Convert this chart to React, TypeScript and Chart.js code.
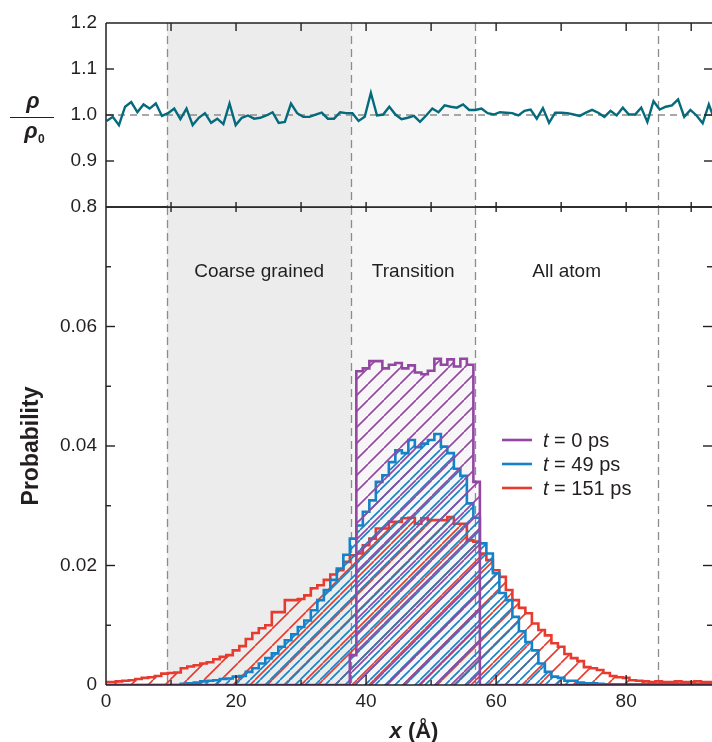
import React, { useEffect, useRef } from 'react';
import { Chart, registerables } from 'chart.js';

Chart.register(...registerables);

// ---------- data ----------
const X_MIN = 0;
const X_MAX = 93.2;
const BIN_WIDTH = 1; // Å, bins centred on integer x
const X_TICK_LABELS_STEP = 20;

// rho / rho0 samples (top panel), spaced DENSITY_DX apart starting at DENSITY_X0
const DENSITY_X0 = 0.1;
const DENSITY_DX = 0.945;
const DENSITY = [
  0.987, 0.996, 0.978, 1.018, 1.028, 1.006, 1.023, 1.014, 1.025, 0.998,
  1.004, 1.014, 0.991, 1.014, 0.978, 0.994, 1.004, 0.983, 0.992, 0.98,
  1.025, 0.978, 0.994, 0.999, 0.992, 0.994, 0.999, 1.006, 0.983, 0.985,
  1.025, 1.004, 0.996, 0.996, 1.001, 1.005, 0.992, 0.992, 1.006, 1.004,
  1.004, 0.987,
  0.996, 1.048, 0.999, 1.001, 1.018, 1.001, 0.991, 0.994, 0.998, 0.985,
  0.999, 1.014, 1.006, 1.021, 1.018, 1.016, 1.023, 1.011, 1.011, 1.014,
  1.004, 1.001, 1.006, 1.005, 1.004, 0.999, 1.009, 1.012, 0.992, 1.015,
  0.983, 1.005, 1.005, 1.004, 1.001, 0.998, 1.005, 1.011, 1.005, 0.996,
  1.009, 0.999, 1.016, 1.001, 1.001, 1.016, 0.985, 1.03, 1.012, 1.018,
  1.021, 1.034, 0.996, 1.011, 0.999, 0.982, 1.023, 0.987,
];

// probability histograms, one value per 1 Å bin (bins 0..93)
const PROB_T0 = [
  0, 0, 0, 0, 0, 0, 0, 0, 0, 0,
  0, 0, 0, 0, 0, 0, 0, 0, 0, 0,
  0, 0, 0, 0, 0, 0, 0, 0, 0, 0,
  0, 0, 0, 0, 0, 0, 0, 0, 0.005, 0.0525,
  0.053, 0.0542, 0.0542, 0.053, 0.0536, 0.0539, 0.053, 0.0535, 0.0523, 0.052,
  0.0526, 0.0546, 0.0536, 0.0545, 0.0533, 0.0546, 0.0536, 0.034, 0, 0,
  0, 0, 0, 0, 0, 0, 0, 0, 0, 0,
  0, 0, 0, 0, 0, 0, 0, 0, 0, 0,
  0, 0, 0, 0, 0, 0, 0, 0, 0, 0,
  0, 0, 0, 0,
];
const PROB_T49 = [
  0, 0, 0, 0, 0, 0, 0, 0, 0, 0,
  0, 0, 0.0002, 0.0003, 0.0004, 0.0006, 0.0007, 0.0008, 0.001, 0.0011,
  0.0014, 0.0015, 0.0022, 0.0028, 0.0036, 0.0045, 0.0053, 0.0064, 0.0075, 0.0085,
  0.0097, 0.0108, 0.0125, 0.0142, 0.0159, 0.0176, 0.0195, 0.0218, 0.0245, 0.0267,
  0.029, 0.0309, 0.034, 0.0351, 0.0373, 0.0393, 0.0388, 0.041, 0.0398, 0.0404,
  0.041, 0.042, 0.0399, 0.0388, 0.0362, 0.035, 0.0304, 0.028, 0.0237, 0.022,
  0.0187, 0.0154, 0.0142, 0.0114, 0.009, 0.0072, 0.0058, 0.0036, 0.0022, 0.0014,
  0.0012, 0.0007, 0.0007, 0.0004, 0.0003, 0.0003, 0.0002, 0.0001, 0.0001, 0.0001,
  0.0001, 0.0001, 0.0001, 0.0001, 0.0001, 0.0001, 0.0001, 0.0001, 0.0001, 0.0001,
  0.0001, 0.0001, 0.0001, 0.0001,
];
const PROB_T151 = [
  0.0005, 0.0005, 0.0006, 0.0007, 0.0008, 0.001, 0.0012, 0.0013, 0.0015, 0.0019,
  0.002, 0.0021, 0.0028, 0.0031, 0.0033, 0.0036, 0.0038, 0.0043, 0.0047, 0.005,
  0.0058, 0.0065, 0.0077, 0.0087, 0.0095, 0.01, 0.0122, 0.0122, 0.0142, 0.0142,
  0.0144, 0.015, 0.0162, 0.0167, 0.0176, 0.0185, 0.0192, 0.0206, 0.0217, 0.022,
  0.0234, 0.0245, 0.0262, 0.0262, 0.0273, 0.0273, 0.0279, 0.028, 0.027, 0.0279,
  0.0276, 0.0276, 0.0276, 0.0281, 0.027, 0.027, 0.0242, 0.024, 0.022, 0.0209,
  0.0192, 0.0181, 0.0159, 0.0142, 0.0129, 0.012, 0.0103, 0.0092, 0.0083, 0.007,
  0.0064, 0.0052, 0.0045, 0.004, 0.003, 0.0028, 0.0025, 0.002, 0.0015, 0.0013,
  0.0012, 0.0008, 0.0007, 0.0006, 0.0005, 0.0006, 0.0005, 0.0005, 0.0006, 0.0005,
  0.0005, 0.0006, 0.0005, 0.0005,
];

const SERIES_TIMES = ['0 ps', '49 ps', '151 ps'];
const SERIES_COLORS = ['#9347a3', '#1482c8', '#e63b2e'];

// region boundaries (Å) and labels
const REGION_EDGES = [9.4, 37.7, 56.8, 84.9];
const REGION_LABELS = ['Coarse grained', 'Transition', 'All atom'];
const REGION_FILLS = ['#ececec', '#f6f6f6'];

const DENSITY_TICKS = [0.8, 0.9, 1.0, 1.1, 1.2];
const PROB_MAX = 0.08;

// ---------- styling ----------
const FONT = '"Liberation Sans", Arial, Helvetica, sans-serif';
const INK = '#231f20';
const DASH_GRAY = '#8c8c8c';

function makeHatch(color: string, period: number, width: number) {
  const c = document.createElement('canvas');
  c.width = period;
  c.height = period;
  const g = c.getContext('2d')!;
  g.strokeStyle = color;
  g.lineWidth = width;
  g.beginPath();
  for (const o of [-period, 0, period]) {
    g.moveTo(o, period);
    g.lineTo(o + period, 0);
  }
  g.stroke();
  return g.createPattern(c, 'repeat')!;
}

function histPoints(values: number[]) {
  const pts = values.map((v, i) => ({ x: i * BIN_WIDTH - BIN_WIDTH / 2, y: v }));
  pts.push({ x: values.length * BIN_WIDTH - BIN_WIDTH / 2, y: 0 });
  return pts;
}

function seg(ctx: CanvasRenderingContext2D, x1: number, y1: number, x2: number, y2: number) {
  ctx.beginPath();
  ctx.moveTo(x1, y1);
  ctx.lineTo(x2, y2);
  ctx.stroke();
}

function drawRegions(chart: any) {
  const { ctx, chartArea: a, scales } = chart;
  const x = scales.x;
  ctx.save();
  for (let i = 0; i < REGION_FILLS.length; i++) {
    const x1 = x.getPixelForValue(REGION_EDGES[i]);
    const x2 = x.getPixelForValue(REGION_EDGES[i + 1]);
    ctx.fillStyle = REGION_FILLS[i];
    ctx.fillRect(x1, a.top, x2 - x1, a.bottom - a.top);
  }
  ctx.strokeStyle = DASH_GRAY;
  ctx.lineWidth = 1.3;
  ctx.setLineDash([8, 5]);
  for (const e of REGION_EDGES) {
    const px = Math.round(x.getPixelForValue(e)) + 0.5;
    seg(ctx, px, a.top, px, a.bottom);
  }
  ctx.restore();
}

const topPlugin = {
  id: 'topDeco',
  beforeDatasetsDraw(chart: any) {
    drawRegions(chart);
    const { ctx, chartArea: a, scales } = chart;
    const py = scales.y.getPixelForValue(1.0);
    ctx.save();
    ctx.strokeStyle = DASH_GRAY;
    ctx.lineWidth = 1.3;
    ctx.setLineDash([7, 5]);
    seg(ctx, a.left, py, a.right, py);
    ctx.restore();
  },
  afterDatasetsDraw(chart: any) {
    const { ctx, chartArea: a, scales } = chart;
    const x = scales.x;
    const y = scales.y;
    ctx.save();
    ctx.strokeStyle = INK;
    ctx.lineWidth = 1.5;
    seg(ctx, a.left, a.top, a.left, a.bottom);
    seg(ctx, a.left, a.top, a.right, a.top);
    seg(ctx, a.left, a.bottom, a.right, a.bottom);
    ctx.lineWidth = 1.4;
    for (let v = 10; v <= 90; v += 10) {
      const px = x.getPixelForValue(v);
      seg(ctx, px, a.top, px, a.top + 8);
      seg(ctx, px, a.bottom, px, a.bottom - 5);
    }
    for (const t of DENSITY_TICKS.slice(1, -1)) {
      const py = y.getPixelForValue(t);
      seg(ctx, a.left, py, a.left + 8, py);
      seg(ctx, a.right, py, a.right - 8, py);
    }
    // rho / rho0 label
    ctx.fillStyle = INK;
    ctx.textAlign = 'center';
    ctx.textBaseline = 'alphabetic';
    ctx.font = `italic bold 22px ${FONT}`;
    ctx.fillText('ρ', 33, 108);
    ctx.fillText('ρ', 31, 138);
    ctx.font = `bold 12px ${FONT}`;
    ctx.textAlign = 'left';
    ctx.fillText('0', 38, 143);
    ctx.lineWidth = 1.2;
    seg(ctx, 10, 117.5, 54, 117.5);
    ctx.restore();
  },
};

const bottomPlugin = {
  id: 'bottomDeco',
  beforeDatasetsDraw(chart: any) {
    drawRegions(chart);
    const { ctx, scales } = chart;
    const x = scales.x;
    const ly = chart.chartArea.top + 65;
    ctx.save();
    ctx.fillStyle = INK;
    ctx.font = `19px ${FONT}`;
    ctx.textAlign = 'center';
    ctx.textBaseline = 'middle';
    REGION_LABELS.forEach((lab, i) => {
      const cx = x.getPixelForValue((REGION_EDGES[i] + REGION_EDGES[i + 1]) / 2);
      ctx.fillText(lab, cx, ly);
    });
    ctx.restore();
  },
  afterDatasetsDraw(chart: any) {
    const { ctx, chartArea: a, scales } = chart;
    const x = scales.x;
    const y = scales.y;
    ctx.save();
    ctx.strokeStyle = INK;
    ctx.lineWidth = 1.5;
    seg(ctx, a.left, a.top, a.left, a.bottom);
    seg(ctx, a.left, a.top, a.right, a.top);
    seg(ctx, a.left, a.bottom, a.right, a.bottom);
    ctx.lineWidth = 1.4;
    for (let v = 10; v <= 90; v += 10) {
      const px = x.getPixelForValue(v);
      const len = v % X_TICK_LABELS_STEP === 0 ? 10 : 5;
      seg(ctx, px, a.bottom, px, a.bottom - len);
      seg(ctx, px, a.top, px, a.top + 5);
    }
    for (let i = 1; i <= 7; i++) {
      const py = y.getPixelForValue(i * 0.01);
      const len = i % 2 === 0 ? 9 : 5;
      seg(ctx, a.left, py, a.left + len, py);
      seg(ctx, a.right, py, a.right - len, py);
    }

    // legend
    const lx = a.left + 396;
    const ly0 = a.top + 233;
    const gap = 24;
    ctx.textBaseline = 'middle';
    ctx.textAlign = 'left';
    SERIES_TIMES.forEach((t, i) => {
      const yy = ly0 + i * gap;
      ctx.strokeStyle = SERIES_COLORS[i];
      ctx.lineWidth = 2.6;
      seg(ctx, lx, yy, lx + 30, yy);
      ctx.fillStyle = INK;
      ctx.font = `italic 20px ${FONT}`;
      ctx.fillText('t', lx + 41, yy + 1);
      const w = ctx.measureText('t').width;
      ctx.font = `20px ${FONT}`;
      ctx.fillText(` = ${t}`, lx + 41 + w, yy + 1);
    });

    // x-axis title: bold italic x + bold (Å)
    ctx.fillStyle = INK;
    ctx.textBaseline = 'alphabetic';
    ctx.font = `italic bold 22px ${FONT}`;
    const w1 = ctx.measureText('x').width;
    ctx.font = `bold 22px ${FONT}`;
    const w2 = ctx.measureText(' (Å)').width;
    const cx = 414;
    const sx = cx - (w1 + w2) / 2;
    ctx.font = `italic bold 22px ${FONT}`;
    ctx.fillText('x', sx, 738);
    ctx.font = `bold 22px ${FONT}`;
    ctx.fillText(' (Å)', sx + w1, 738);
    ctx.restore();
  },
};

export default function App() {
  const topRef = useRef<HTMLCanvasElement>(null);
  const botRef = useRef<HTMLCanvasElement>(null);

  useEffect(() => {
    const tickFont = { family: FONT, size: 19 };
    const hatchPeriods = [16, 10, 17];
    const hist = [PROB_T0, PROB_T49, PROB_T151];

    const top = new Chart(topRef.current!, {
      type: 'line',
      data: {
        datasets: [
          {
            label: 'rho/rho0',
            data: DENSITY.map((v, i) => ({ x: DENSITY_X0 + i * DENSITY_DX, y: v })),
            borderColor: '#046a7c',
            borderWidth: 2.4,
            pointRadius: 0,
            tension: 0,
            fill: false,
          },
        ],
      },
      options: {
        animation: false,
        responsive: false,
        maintainAspectRatio: false,
        layout: { padding: { top: 23, bottom: 23, left: 0, right: 0 } },
        plugins: { legend: { display: false }, tooltip: { enabled: false } },
        scales: {
          x: { type: 'linear', min: X_MIN, max: X_MAX, display: false },
          y: {
            type: 'linear',
            min: DENSITY_TICKS[0],
            max: DENSITY_TICKS[DENSITY_TICKS.length - 1],
            grid: { display: false, drawTicks: false },
            border: { display: false },
            afterBuildTicks: (s: any) => {
              s.ticks = DENSITY_TICKS.map((v) => ({ value: v }));
            },
            ticks: {
              font: tickFont,
              color: INK,
              padding: 9,
              callback: (v: any) => Number(v).toFixed(1),
            },
            afterFit: (s: any) => {
              s.width = 106;
            },
          },
        },
      },
      plugins: [topPlugin],
    } as any);

    const bot = new Chart(botRef.current!, {
      type: 'line',
      data: {
        datasets: SERIES_TIMES.map((t, i) => ({
          label: `t = ${t}`,
          data: histPoints(hist[i]),
          borderColor: SERIES_COLORS[i],
          borderWidth: 2.6,
          backgroundColor: makeHatch(SERIES_COLORS[i], hatchPeriods[i], 1.6),
          fill: 'origin',
          stepped: true,
          pointRadius: 0,
          tension: 0,
        })),
      },
      options: {
        animation: false,
        responsive: false,
        maintainAspectRatio: false,
        layout: { padding: { top: 207, bottom: 0, left: 0, right: 0 } },
        plugins: { legend: { display: false }, tooltip: { enabled: false } },
        scales: {
          x: {
            type: 'linear',
            min: X_MIN,
            max: X_MAX,
            grid: { display: false, drawTicks: false },
            border: { display: false },
            ticks: {
              stepSize: X_TICK_LABELS_STEP,
              includeBounds: false,
              font: tickFont,
              color: INK,
              padding: 5,
              maxRotation: 0,
            },
            afterFit: (s: any) => {
              s.height = 57;
            },
          },
          y: {
            type: 'linear',
            min: 0,
            max: PROB_MAX,
            grid: { display: false, drawTicks: false },
            border: { display: false },
            ticks: {
              stepSize: 0.02,
              font: tickFont,
              color: INK,
              padding: 9,
              callback: (v: any) => (v === 0 ? '0' : v > PROB_MAX - 0.005 ? '' : Number(v).toFixed(2)),
            },
            title: {
              display: true,
              text: 'Probability',
              color: INK,
              font: { family: FONT, size: 23, weight: 'bold' },
              padding: { top: 18, bottom: 0 },
            },
            afterFit: (s: any) => {
              s.width = 106;
            },
          },
        },
      },
      plugins: [bottomPlugin],
    } as any);

    return () => {
      top.destroy();
      bot.destroy();
    };
  }, []);

  return (
    <div style={{ position: 'fixed', left: 0, top: 0, width: 712, height: 742, background: '#ffffff', overflow: 'hidden' }}>
      <canvas ref={botRef} width={712} height={742} style={{ position: 'absolute', left: 0, top: 0 }} />
      <canvas ref={topRef} width={712} height={230} style={{ position: 'absolute', left: 0, top: 0 }} />
    </div>
  );
}
